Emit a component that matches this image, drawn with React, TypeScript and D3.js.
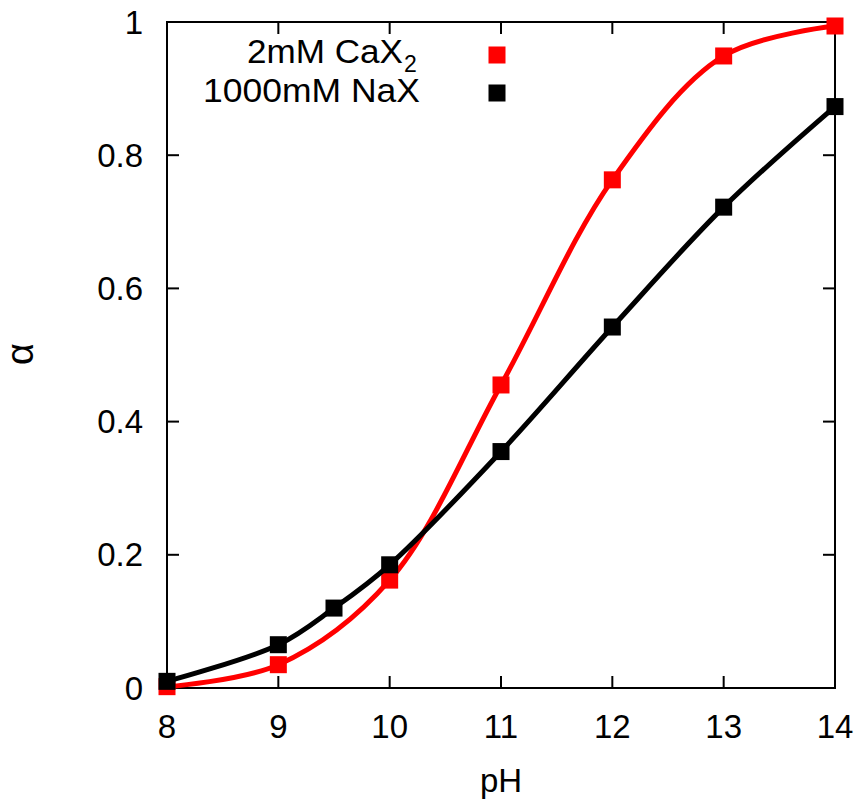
import React from "react";
import * as d3 from "d3";

const xTicks = [8, 9, 10, 11, 12, 13, 14];
const yTicks = [0, 0.2, 0.4, 0.6, 0.8, 1];
const yTickLabels = ["0", "0.2", "0.4", "0.6", "0.8", "1"];

const caPH = [8, 9, 10, 11, 12, 13, 14];
const caAlpha = [0.002, 0.035, 0.162, 0.455, 0.763, 0.949, 0.994];

const naPH = [8, 9, 9.5, 10, 11, 12, 13, 14];
const naAlpha = [0.01, 0.065, 0.12, 0.185, 0.355, 0.542, 0.722, 0.873];

const seriesNames = ["2mM CaX", "1000mM NaX"];
const seriesColors = ["#ff0000", "#000000"];

const W = 863;
const H = 801;
const L = 167;
const R = 835;
const T = 22;
const B = 688;
const FONT = "'Liberation Sans', Arial, sans-serif";
const FS = 33;

export default function App() {
  const x = d3.scaleLinear().domain([8, 14]).range([L, R]);
  const y = d3.scaleLinear().domain([0, 1]).range([B, T]);
  const line = d3
    .line<[number, number]>()
    .x((d) => x(d[0]))
    .y((d) => y(d[1]))
    .curve(d3.curveCatmullRom.alpha(0.5));

  const series = [
    { pts: caPH.map((p, i) => [p, caAlpha[i]] as [number, number]), color: seriesColors[0] },
    { pts: naPH.map((p, i) => [p, naAlpha[i]] as [number, number]), color: seriesColors[1] },
  ];
  const ms = 17;
  const tl = 12;

  return (
    <svg
      width={W}
      height={H}
      style={{ position: "absolute", left: 0, top: 0, background: "#fff" }}
      fontFamily={FONT}
    >
      <rect x={0} y={0} width={W} height={H} fill="#fff" />
      {xTicks.map((t) => (
        <g key={"xt" + t}>
          <line x1={x(t)} x2={x(t)} y1={B} y2={B - tl} stroke="#000" strokeWidth={2} />
          <line x1={x(t)} x2={x(t)} y1={T} y2={T + tl} stroke="#000" strokeWidth={2} />
          <text x={x(t)} y={738} textAnchor="middle" fontSize={FS}>
            {t}
          </text>
        </g>
      ))}
      {yTicks.map((t, i) => (
        <g key={"yt" + t}>
          <line x1={L} x2={L + tl} y1={y(t)} y2={y(t)} stroke="#000" strokeWidth={2} />
          <line x1={R} x2={R - tl} y1={y(t)} y2={y(t)} stroke="#000" strokeWidth={2} />
          <text x={143} y={y(t)} dy="0.35em" textAnchor="end" fontSize={FS}>
            {yTickLabels[i]}
          </text>
        </g>
      ))}
      <rect x={L} y={T} width={R - L} height={B - T} fill="none" stroke="#000" strokeWidth={2} />
      <text x={501} y={792} textAnchor="middle" fontSize={FS}>
        pH
      </text>
      <text transform="translate(33,354) rotate(-90)" textAnchor="middle" fontSize={38}>
        α
      </text>
      <text x={247} y={63} fontSize={33} textLength={156} lengthAdjust="spacingAndGlyphs">
        {seriesNames[0]}
      </text>
      <text x={404} y={72} fontSize={23}>
        2
      </text>
      <rect x={497 - ms / 2} y={55 - ms / 2} width={ms} height={ms} fill={seriesColors[0]} />
      <text x={203} y={102} fontSize={33} textLength={217} lengthAdjust="spacingAndGlyphs">
        {seriesNames[1]}
      </text>
      <rect x={497 - ms / 2} y={93 - ms / 2} width={ms} height={ms} fill={seriesColors[1]} />
      {series.map((s, si) => (
        <g key={"s" + si}>
          <path d={line(s.pts) || ""} fill="none" stroke={s.color} strokeWidth={5} />
          {s.pts.map((p, i) => (
            <rect
              key={i}
              x={x(p[0]) - ms / 2}
              y={y(p[1]) - ms / 2}
              width={ms}
              height={ms}
              fill={s.color}
            />
          ))}
        </g>
      ))}
    </svg>
  );
}
